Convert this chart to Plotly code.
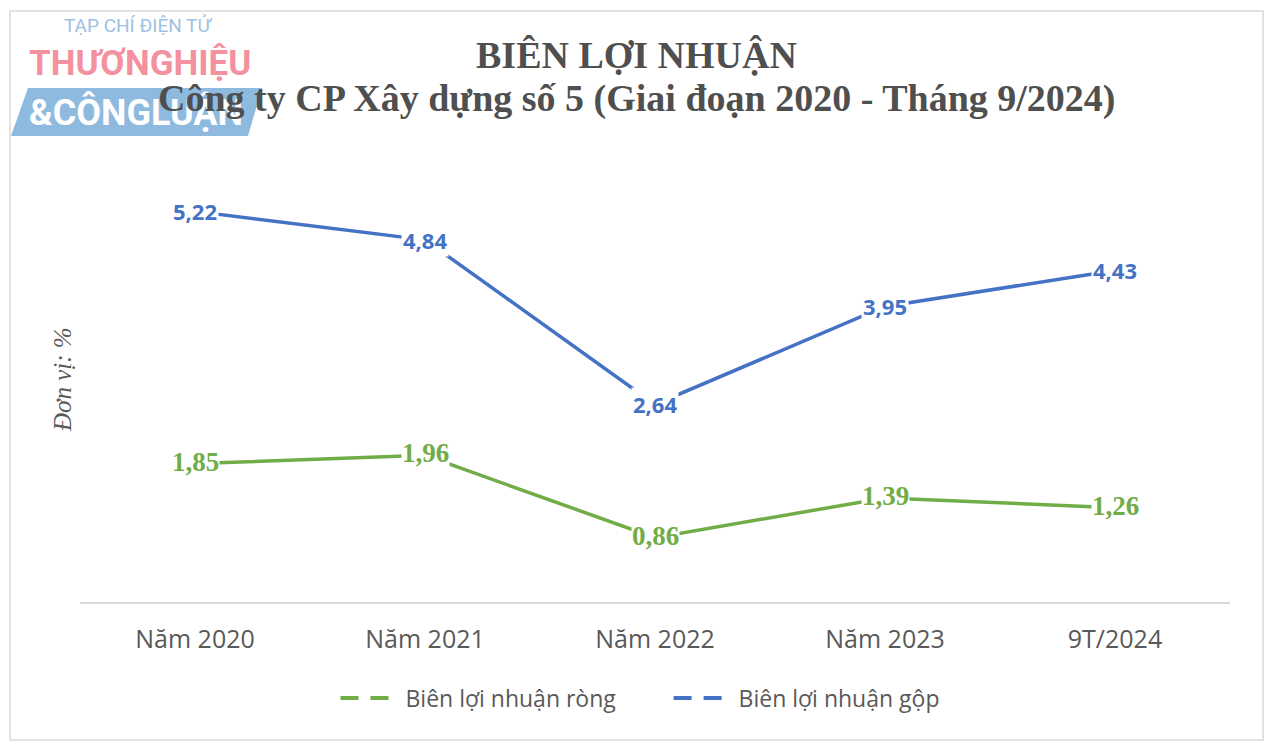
import plotly.graph_objects as go

categories = ["Năm 2020", "Năm 2021", "Năm 2022", "Năm 2023", "9T/2024"]
net_margin = [1.85, 1.96, 0.86, 1.39, 1.26]
gross_margin = [5.22, 4.84, 2.64, 3.95, 4.43]
net_name = "Biên lợi nhuận ròng"
gross_name = "Biên lợi nhuận gộp"
title_1 = "BIÊN LỢI NHUẬN"
title_2 = "Công ty CP Xây dựng số 5 (Giai đoạn 2020 - Tháng 9/2024)"
unit_label = "Đơn vị: %"

BLUE = "#4472C4"
GREEN = "#70AD47"
GREY = "#595959"
TITLE_GREY = "#4f4f4f"

# page is rendered with an 8px body margin -> figure pixel = page pixel - 8
OFF = 8
W, H = 1272 - 2 * OFF, 751 - 2 * OFF
ML, MR, MT, MB = 80 - OFF, W - (1230 - OFF), 153 - OFF, H - (602 - OFF)
pw, ph = W - ML - MR, H - MT - MB


def px_x(px):
    return (px - OFF - ML) / pw


def px_y(py):
    return (H - MB - (py - OFF)) / ph


fig = go.Figure()
fig.add_trace(go.Scatter(x=categories, y=gross_margin, mode="lines",
                         line=dict(color=BLUE, width=3.5), showlegend=False, hoverinfo="skip"))
fig.add_trace(go.Scatter(x=categories, y=net_margin, mode="lines",
                         line=dict(color=GREEN, width=3.5), showlegend=False, hoverinfo="skip"))
# legend entries (dashed symbols as in the reference)
fig.add_trace(go.Scatter(x=[None], y=[None], mode="lines", name=net_name + "\u00a0" * 8,
                         line=dict(color=GREEN, width=4, dash="18px,12px")))
fig.add_trace(go.Scatter(x=[None], y=[None], mode="lines", name=gross_name,
                         line=dict(color=BLUE, width=4, dash="18px,12px")))


def fmt(v):
    return f"{v:.2f}".replace(".", ",")


annotations = []
for c, v in zip(categories, gross_margin):
    annotations.append(dict(x=c, y=v, xref="x", yref="y", text=fmt(v), showarrow=False,
                            bgcolor="white", borderpad=1, yshift=0,
                            font=dict(family="Open Sans", size=22, color=BLUE, weight="bold")))
for c, v in zip(categories, net_margin):
    annotations.append(dict(x=c, y=v, xref="x", yref="y", text=fmt(v), showarrow=False,
                            bgcolor="white", borderpad=0, yshift=2,
                            font=dict(family="Liberation Serif", size=27, color=GREEN, weight="bold")))

deco = [
    # watermark logo
    dict(text="TẠP CHÍ ĐIỆN TỬ", x=138, y=26,
         font=dict(family="Roboto", size=19, color="#9dc1e3")),
    dict(text="<b>THƯƠNGHIỆU</b>", x=140, y=64,
         font=dict(family="Roboto", size=35, color="#f3919f")),
    dict(text="<b>&CÔNGLUẬN</b>", x=136, y=112,
         font=dict(family="Roboto", size=36, color="white")),
    # titles
    dict(text=f"<b>{title_1}</b>", x=636, y=55,
         font=dict(family="Liberation Serif", size=38, color=TITLE_GREY)),
    dict(text=f"<b>{title_2}</b>", x=636, y=99,
         font=dict(family="Liberation Serif", size=38, color=TITLE_GREY)),
    # y axis caption
    dict(text=f"<i>{unit_label}</i>", x=62, y=380, textangle=-90,
         font=dict(family="Liberation Serif", size=25, color=GREY)),
]
for a in deco:
    a.update(xref="paper", yref="paper", showarrow=False, xanchor="center", yanchor="middle",
             x=px_x(a["x"]), y=px_y(a["y"]))
annotations += deco

shapes = [
    # frame
    dict(type="rect", xref="paper", yref="paper",
         x0=px_x(10), x1=px_x(1263), y0=px_y(11), y1=px_y(740),
         line=dict(color="#d9d9d9", width=1.5), layer="below"),
    # logo band (parallelogram)
    dict(type="path", xref="paper", yref="paper",
         path=(f"M {px_x(28)} {px_y(88)} L {px_x(262)} {px_y(88)} "
               f"L {px_x(248)} {px_y(136)} L {px_x(11)} {px_y(136)} Z"),
         fillcolor="#8ebae0", line=dict(width=0), layer="below"),
]

fig.update_layout(
    width=W, height=H,
    margin=dict(l=ML, r=MR, t=MT, b=MB),
    paper_bgcolor="white", plot_bgcolor="white",
    xaxis=dict(type="category", showgrid=False, showline=True, linecolor="#d9d9d9", linewidth=1.5,
               ticks="", ticklabelstandoff=14,
               tickfont=dict(family="Open Sans", size=25, color=GREY),
               range=[-0.5, 4.5], fixedrange=True),
    yaxis=dict(range=[0, 6], showgrid=False, showticklabels=False, zeroline=False,
               showline=False, fixedrange=True),
    legend=dict(orientation="h", x=px_x(640), xanchor="center", y=px_y(698), yanchor="middle",
                font=dict(family="Open Sans", size=23, color=GREY), itemwidth=60),
    annotations=annotations,
    shapes=shapes,
)

fig.write_html("out.html")
